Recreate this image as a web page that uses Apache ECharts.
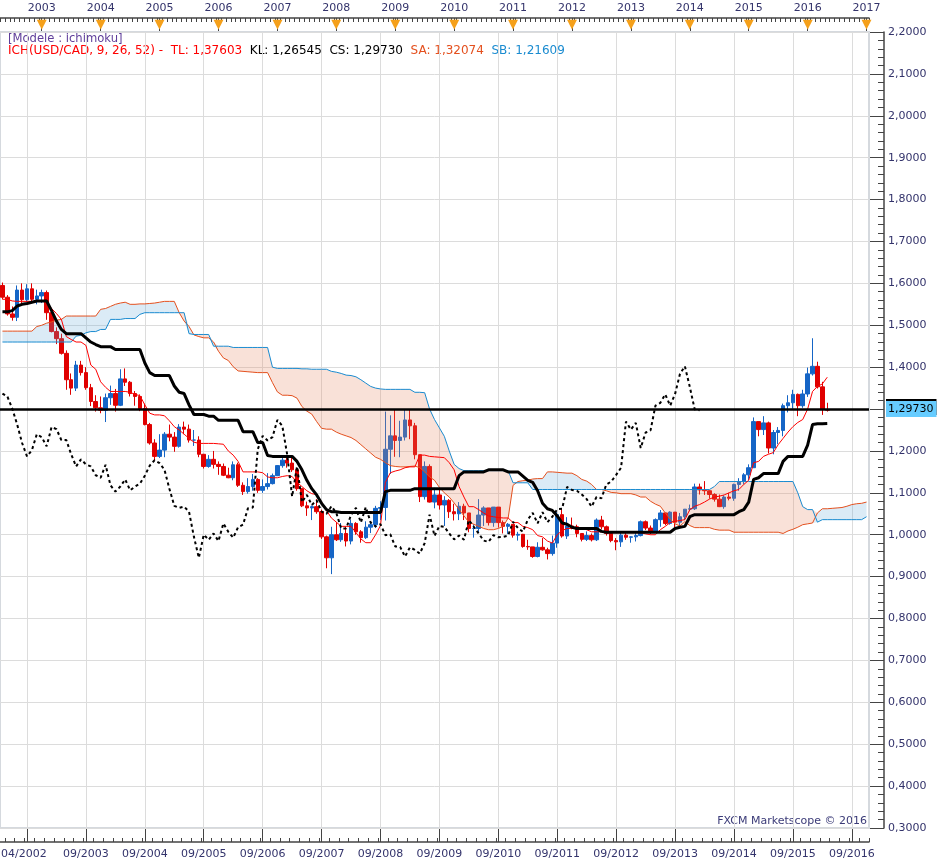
<!DOCTYPE html>
<html><head><meta charset="utf-8">
<script src="https://cdn.jsdelivr.net/npm/echarts@6/dist/echarts.min.js"></script>
<style>html,body{margin:0;padding:0;background:#fff}#c{width:942px;height:868px}</style>
</head><body><div id="c"></div>
<script>
// Monthly categories Apr 2002 .. Dec 2016
const months = [];
for (let k = 0; k < 177; k++) { const m = 3 + k; months.push((2002 + Math.floor(m / 12)) + '-' + String(m % 12 + 1).padStart(2, '0')); }

// USD/CAD monthly candles (Apr 2002 .. Apr 2016)
const opens = [1.595,1.567,1.527,1.519,1.584,1.561,1.587,1.562,1.570,
1.578,1.530,1.485,1.468,1.433,1.370,1.350,1.405,1.387,1.351,1.318,1.303,
1.297,1.327,1.337,1.309,1.372,1.364,1.337,1.330,1.301,1.263,1.219,1.187,
1.202,1.240,1.233,1.211,1.257,1.252,1.226,1.226,1.192,1.163,1.180,1.168,
1.163,1.142,1.136,1.167,1.118,1.103,1.115,1.132,1.106,1.115,1.122,1.141,
1.165,1.178,1.171,1.155,1.110,1.069,1.064,1.067,1.055,0.995,0.945,1.000,
0.988,1.003,0.985,1.027,1.007,0.993,1.018,1.024,1.063,1.065,1.204,1.236,
1.225,1.233,1.274,1.260,1.191,1.091,1.163,1.078,1.095,1.071,1.082,1.055,
1.050,1.068,1.052,1.015,1.015,1.047,1.064,1.029,1.066,1.029,1.020,1.025,
0.999,1.001,0.972,0.971,0.948,0.970,0.964,0.955,0.980,1.048,0.997,1.021,
1.019,1.003,0.989,0.998,0.988,1.035,1.019,1.003,0.986,0.983,0.999,0.994,
0.995,0.998,1.031,1.016,1.007,1.036,1.052,1.027,1.054,1.030,1.043,1.061,
1.062,1.114,1.107,1.105,1.096,1.085,1.067,1.090,1.087,1.120,1.127,1.143,
1.160,1.270,1.251,1.267,1.207,1.244,1.249,1.308,1.315,1.335,1.308,1.336,
1.384,1.402,1.353,1.299];
const closes = [1.567,1.527,1.519,1.584,1.561,1.587,1.562,1.570,1.578,
1.530,1.485,1.468,1.433,1.370,1.350,1.405,1.387,1.351,1.318,1.303,1.297,
1.327,1.337,1.309,1.372,1.364,1.337,1.330,1.301,1.263,1.219,1.187,1.202,
1.240,1.233,1.211,1.257,1.252,1.226,1.226,1.192,1.163,1.180,1.168,1.163,
1.142,1.136,1.167,1.118,1.103,1.115,1.132,1.106,1.115,1.122,1.141,1.165,
1.178,1.171,1.155,1.110,1.069,1.064,1.067,1.055,0.995,0.945,1.000,0.988,
1.003,0.985,1.027,1.007,0.993,1.018,1.024,1.063,1.065,1.204,1.236,1.225,
1.233,1.274,1.260,1.191,1.091,1.163,1.078,1.095,1.071,1.082,1.055,1.050,
1.068,1.052,1.015,1.015,1.047,1.064,1.029,1.066,1.029,1.020,1.025,0.999,
1.001,0.972,0.971,0.948,0.970,0.964,0.955,0.980,1.048,0.997,1.021,1.019,
1.003,0.989,0.998,0.988,1.035,1.019,1.003,0.986,0.983,0.999,0.994,0.995,
0.998,1.031,1.016,1.007,1.036,1.052,1.027,1.054,1.030,1.043,1.061,1.062,
1.114,1.107,1.105,1.096,1.085,1.067,1.090,1.087,1.120,1.127,1.143,1.160,
1.270,1.251,1.267,1.207,1.244,1.249,1.308,1.315,1.335,1.308,1.336,1.384,
1.402,1.353,1.299,1.2973];
const lows = [1.562,1.523,1.511,1.510,1.550,1.555,1.555,1.550,1.553,
1.513,1.483,1.455,1.430,1.346,1.334,1.343,1.380,1.346,1.307,1.294,1.290,
1.269,1.310,1.294,1.307,1.355,1.330,1.308,1.295,1.261,1.215,1.177,1.183,
1.185,1.223,1.198,1.208,1.240,1.220,1.212,1.185,1.158,1.160,1.158,1.143,
1.140,1.135,1.130,1.114,1.095,1.098,1.105,1.100,1.100,1.108,1.120,1.140,
1.160,1.160,1.150,1.105,1.066,1.045,1.035,1.050,0.990,0.920,0.906,0.985,
0.983,0.972,0.977,1.000,0.981,0.990,1.004,1.016,1.035,1.034,1.145,1.186,
1.185,1.225,1.228,1.180,1.078,1.084,1.077,1.063,1.060,1.021,1.040,1.034,
1.035,1.035,1.006,0.993,1.005,1.021,1.022,1.019,1.017,1.003,1.002,0.993,
0.986,0.969,0.964,0.945,0.946,0.962,0.941,0.950,0.969,0.993,0.990,1.013,
0.994,0.984,0.985,0.984,0.985,1.013,0.998,0.982,0.963,0.971,0.988,0.981,
0.984,0.996,1.011,1.001,1.007,1.019,1.023,1.024,1.018,1.018,1.035,1.056,
1.059,1.096,1.095,1.086,1.079,1.066,1.062,1.082,1.081,1.105,1.120,1.130,
1.160,1.235,1.238,1.194,1.192,1.216,1.235,1.292,1.301,1.283,1.303,1.329,
1.380,1.349,1.286,1.294];
const highs = [1.602,1.572,1.545,1.595,1.600,1.598,1.600,1.585,1.585,
1.583,1.535,1.495,1.480,1.440,1.385,1.415,1.415,1.400,1.360,1.333,1.330,
1.337,1.356,1.348,1.395,1.397,1.367,1.343,1.335,1.313,1.267,1.228,1.240,
1.245,1.263,1.245,1.264,1.270,1.263,1.250,1.235,1.193,1.190,1.200,1.175,
1.170,1.160,1.175,1.172,1.125,1.135,1.145,1.135,1.132,1.147,1.146,1.166,
1.190,1.188,1.185,1.160,1.110,1.079,1.070,1.085,1.060,0.998,1.019,1.030,
1.028,1.020,1.036,1.030,1.011,1.032,1.030,1.069,1.080,1.294,1.285,1.300,
1.272,1.300,1.300,1.267,1.188,1.175,1.168,1.112,1.112,1.092,1.085,1.074,
1.078,1.074,1.052,1.025,1.085,1.068,1.064,1.066,1.050,1.034,1.028,1.015,
1.007,1.002,0.988,0.971,0.982,0.992,0.969,0.998,1.054,1.061,1.042,1.041,
1.024,1.003,1.008,1.003,1.039,1.045,1.022,1.000,0.992,1.004,1.004,0.996,
1.004,1.034,1.034,1.022,1.039,1.059,1.053,1.056,1.052,1.052,1.061,1.072,
1.122,1.122,1.128,1.106,1.099,1.096,1.094,1.100,1.122,1.135,1.147,1.168,
1.280,1.270,1.283,1.270,1.250,1.257,1.313,1.333,1.346,1.337,1.346,1.399,
1.469,1.413,1.365,1.315];

// Ichimoku lines
const tenkan = [1.562,1.562,1.558,1.557,1.557,1.557,1.557,1.557,1.557,
1.556,1.540,1.528,1.514,1.473,1.466,1.460,1.460,1.452,1.405,1.395,1.365,
1.352,1.342,1.342,1.342,1.342,1.340,1.335,1.332,1.310,1.290,1.286,1.286,
1.284,1.272,1.258,1.250,1.240,1.230,1.221,1.218,1.218,1.218,1.218,1.217,
1.216,1.200,1.190,1.175,1.150,1.150,1.150,1.150,1.148,1.138,1.136,1.136,
1.139,1.141,1.139,1.125,1.115,1.105,1.098,1.096,1.078,1.058,1.040,1.030,
1.020,1.020,1.020,1.005,0.990,0.981,0.981,1.000,1.022,1.125,1.148,1.152,
1.155,1.160,1.162,1.162,1.190,1.190,1.187,1.186,1.185,1.184,1.172,1.155,
1.115,1.090,1.067,1.067,1.060,1.052,1.045,1.043,1.041,1.040,1.040,1.029,
1.029,1.020,1.017,1.012,0.998,0.995,0.985,0.980,1.000,1.010,1.015,1.015,
1.015,1.015,1.012,1.007,1.007,1.007,1.007,1.005,1.005,1.005,1.005,1.005,
1.005,1.005,1.002,1.000,1.000,1.012,1.020,1.029,1.032,1.034,1.036,1.060,
1.068,1.072,1.078,1.085,1.090,1.092,1.095,1.100,1.105,1.108,1.120,1.130,
1.172,1.175,1.187,1.192,1.196,1.215,1.230,1.245,1.258,1.268,1.275,1.300,
1.342,1.354,1.360,1.376];
const kijun = [1.532,1.532,1.535,1.546,1.550,1.552,1.555,1.558,1.558,
1.558,1.535,1.510,1.490,1.480,1.480,1.480,1.480,1.470,1.460,1.454,1.449,
1.449,1.449,1.442,1.442,1.442,1.442,1.442,1.442,1.410,1.387,1.380,1.380,
1.380,1.380,1.355,1.340,1.337,1.310,1.287,1.287,1.287,1.283,1.283,1.273,
1.273,1.273,1.273,1.273,1.246,1.246,1.246,1.220,1.220,1.189,1.187,1.187,
1.187,1.187,1.187,1.175,1.155,1.130,1.110,1.095,1.075,1.060,1.055,1.055,
1.053,1.053,1.053,1.053,1.053,1.053,1.053,1.053,1.053,1.103,1.106,1.106,
1.106,1.106,1.106,1.110,1.110,1.110,1.110,1.110,1.110,1.110,1.110,1.110,
1.141,1.150,1.150,1.150,1.150,1.150,1.155,1.155,1.155,1.155,1.150,1.150,
1.150,1.140,1.130,1.125,1.105,1.075,1.062,1.058,1.045,1.028,1.025,1.018,
1.015,1.015,1.015,1.015,1.015,1.008,1.006,1.006,1.006,1.006,1.006,1.006,
1.006,1.006,1.006,1.006,1.006,1.006,1.006,1.006,1.015,1.018,1.020,1.043,
1.048,1.048,1.048,1.048,1.048,1.048,1.048,1.048,1.048,1.055,1.060,1.078,
1.132,1.136,1.146,1.146,1.146,1.146,1.175,1.187,1.187,1.187,1.187,1.214,
1.263,1.265,1.265,1.2655];
const senkouA = [1.486,1.486,1.486,1.486,1.486,1.486,1.486,1.497,1.500,
1.505,1.508,1.512,1.514,1.522,1.522,1.522,1.522,1.522,1.522,1.522,1.538,
1.540,1.545,1.550,1.553,1.555,1.550,1.550,1.551,1.551,1.552,1.553,1.555,
1.557,1.557,1.557,1.530,1.510,1.497,1.477,1.473,1.470,1.470,1.460,1.438,
1.422,1.416,1.401,1.391,1.390,1.389,1.388,1.387,1.387,1.387,1.363,1.341,
1.333,1.333,1.332,1.326,1.306,1.295,1.288,1.270,1.254,1.252,1.252,1.245,
1.240,1.236,1.232,1.225,1.215,1.205,1.195,1.185,1.180,1.172,1.165,1.163,
1.162,1.162,1.163,1.164,1.160,1.150,1.138,1.130,1.113,1.100,1.090,1.076,
1.060,1.045,1.030,1.025,1.020,1.015,1.012,1.012,1.015,1.020,1.040,1.118,
1.127,1.129,1.130,1.133,1.134,1.134,1.150,1.150,1.149,1.148,1.147,1.147,
1.141,1.132,1.128,1.120,1.108,1.108,1.105,1.101,1.100,1.098,1.098,1.098,
1.095,1.090,1.090,1.080,1.073,1.068,1.052,1.037,1.026,1.021,1.031,1.022,
1.017,1.017,1.017,1.017,1.013,1.011,1.011,1.011,1.006,1.006,1.006,1.006,
1.006,1.006,1.006,1.006,1.006,1.006,1.003,1.009,1.013,1.018,1.024,1.026,
1.028,1.052,1.062,1.062,1.063,1.064,1.065,1.068,1.072,1.074,1.075,1.078];
const senkouB = [1.460,1.460,1.460,1.460,1.460,1.460,1.460,1.460,1.460,
1.460,1.460,1.460,1.460,1.460,1.460,1.474,1.476,1.482,1.485,1.485,1.490,
1.490,1.514,1.514,1.514,1.516,1.516,1.516,1.526,1.530,1.530,1.530,1.530,
1.530,1.530,1.530,1.530,1.530,1.480,1.478,1.478,1.478,1.478,1.450,1.450,
1.450,1.450,1.447,1.447,1.447,1.447,1.447,1.447,1.447,1.447,1.400,1.397,
1.397,1.397,1.397,1.397,1.396,1.396,1.395,1.395,1.395,1.395,1.390,1.388,
1.385,1.381,1.380,1.377,1.370,1.362,1.354,1.350,1.348,1.347,1.347,1.347,
1.347,1.347,1.347,1.340,1.340,1.339,1.300,1.275,1.255,1.235,1.200,1.168,
1.158,1.153,1.153,1.153,1.153,1.153,1.153,1.153,1.153,1.153,1.153,1.124,
1.124,1.124,1.124,1.108,1.108,1.108,1.108,1.108,1.108,1.108,1.108,1.108,
1.108,1.108,1.108,1.108,1.108,1.108,1.108,1.108,1.108,1.108,1.108,1.108,
1.108,1.108,1.108,1.108,1.108,1.108,1.108,1.108,1.108,1.108,1.108,1.108,
1.108,1.108,1.108,1.108,1.115,1.127,1.127,1.127,1.127,1.127,1.127,1.127,
1.127,1.127,1.127,1.127,1.127,1.127,1.127,1.127,1.127,1.100,1.067,1.060,
1.060,1.030,1.036,1.036,1.036,1.036,1.036,1.036,1.036,1.036,1.036,1.043];

const priceLevel = 1.305;       // horizontal line drawn on the chart
const lastClose = 1.2973;       // last close shown on the price axis
const lastCloseText = '1,29730';
const legendLine1 = '[Modele : ichimoku]';
const legendParts = { r: 'ICH(USD/CAD, 9, 26, 52) -  TL: 1,37603', kl: 'KL: 1,26545', cs: 'CS: 1,29730', sa: 'SA: 1,32074', sb: 'SB: 1,21609' };
const credit = 'FXCM Marketscope \u00a9 2016';

// ---- derived structures for the library ----
const chikou = closes.slice(26);
const cloudBase = senkouA.map((a, i) => Math.min(a, senkouB[i]));
const cloudBlue = senkouA.map((a, i) => Math.max(a - senkouB[i], 0));
const cloudRed = senkouA.map((a, i) => Math.max(senkouB[i] - a, 0));
const candles = opens.map((o, i) => [o, closes[i], lows[i], highs[i]]);

const FONT = 'DejaVu Sans';
const LBL = '#33336b';
const isSep = (i) => i % 12 === 5;
const isDec = (i, v) => String(v).slice(5) === '12';

const chart = echarts.init(document.getElementById('c'), null, { renderer: 'canvas' });
const lineBase = { type: 'line', symbol: 'none', showSymbol: false, silent: true, animation: false, xAxisIndex: 0, yAxisIndex: 0 };

chart.setOption({
  animation: false,
  backgroundColor: '#ffffff',
  grid: { left: 0, right: 73, top: 32, bottom: 40, show: true, borderColor: '#d5d9de', borderWidth: 2, containLabel: false, outerBoundsMode: 'none' },
  xAxis: [
    { type: 'category', data: months, position: 'bottom', offset: 14, boundaryGap: true,
      axisLine: { show: true, onZero: false, lineStyle: { color: '#444', width: 1.5 } },
      axisTick: { show: true, inside: true, length: 4, interval: (i) => i % 2 === 1, lineStyle: { color: '#444' } },
      axisLabel: { interval: (i) => i === 0 || (isSep(i) && i > 5), margin: 7, color: LBL, fontFamily: FONT, fontSize: 11, hideOverlap: false,
        formatter: (v, i) => { const t = v.slice(5) + '/' + v.slice(0, 4); return i === 0 ? '{first|' + t + '}' : t; },
        rich: { first: { padding: [0, 0, 0, 43], color: LBL, fontFamily: FONT, fontSize: 11 } } },
      splitLine: { show: false } },
    { type: 'category', data: months, position: 'bottom', offset: 14, boundaryGap: true,
      axisLine: { show: false }, axisLabel: { show: false },
      axisTick: { show: true, inside: true, length: 13, interval: isSep, alignWithLabel: true, lineStyle: { color: '#444' } },
      splitLine: { show: true, interval: isSep, alignWithLabel: true, lineStyle: { color: '#dcdcdc', width: 1 } } },
    { type: 'category', data: months, position: 'top', offset: 14, boundaryGap: true,
      axisLine: { show: true, onZero: false, lineStyle: { color: '#444', width: 1.5 } },
      axisTick: { show: true, inside: true, length: 4, interval: 0, lineStyle: { color: '#444' } },
      axisLabel: { interval: isDec, margin: 4, color: LBL, fontFamily: FONT, fontSize: 11,
        formatter: (v) => String(Number(v.slice(0, 4)) + 1) },
      splitLine: { show: false } },
    { type: 'category', data: months, position: 'top', offset: 14, boundaryGap: true,
      axisLine: { show: false },
      axisTick: { show: true, inside: true, length: 13, interval: isDec, alignWithLabel: true, lineStyle: { color: '#444' } },
      axisLabel: { inside: true, interval: isDec, margin: 0, color: '#f5a01a', fontFamily: FONT, fontSize: 13, formatter: () => '\u25BC' },
      splitLine: { show: false } }
  ],
  yAxis: [{
    type: 'value', position: 'right', min: 0.3, max: 2.2, interval: 0.1, offset: 15, scale: false,
    axisLine: { show: true, onZero: false, lineStyle: { color: '#444', width: 1.5 } },
    axisTick: { show: true, inside: true, length: 14, lineStyle: { color: '#444' } },
    minorTick: { show: true, splitNumber: 5, length: 6, lineStyle: { color: '#444' } },
    axisLabel: { margin: 4, color: LBL, fontFamily: FONT, fontSize: 11,
      formatter: (v) => Math.abs(v - lastClose) < 0.02 ? '' : v.toFixed(4).replace('.', ',') },
    splitLine: { show: true, lineStyle: { color: '#dcdcdc', width: 1 } }
  }],
  series: [
    { type: 'candlestick', name: 'USD/CAD', data: candles, barWidth: 4, z: 2, animation: false,
      itemStyle: { color: '#1565c6', color0: '#e00000', borderColor: '#1565c6', borderColor0: '#e00000', borderWidth: 1 },
      markLine: { silent: true, symbol: 'none', z: 10, animation: false,
        data: [
          { yAxis: priceLevel, label: { show: false }, lineStyle: { color: '#000', width: 2.5, type: 'solid' } },
          { yAxis: lastClose, lineStyle: { color: 'rgba(0,0,0,0)', width: 1 },
            label: { show: true, position: 'end', distance: 17, formatter: lastCloseText, color: '#000',
              fontFamily: FONT, fontSize: 11, backgroundColor: '#66ccff', padding: [3, 3, 2, 2],
              shadowColor: '#000', shadowOffsetY: -2, shadowBlur: 0 } }
        ] } },
    Object.assign({}, lineBase, { name: 'cb', data: cloudBase, stack: 'cloud', z: 3, lineStyle: { opacity: 0 } }),
    Object.assign({}, lineBase, { name: 'cblue', data: cloudBlue, stack: 'cloud', z: 3, lineStyle: { opacity: 0 }, areaStyle: { color: 'rgba(100,170,215,0.33)' } }),
    Object.assign({}, lineBase, { name: 'cred', data: cloudRed, stack: 'cloud', z: 3, lineStyle: { opacity: 0 }, areaStyle: { color: 'rgba(230,135,100,0.36)' } }),
    Object.assign({}, lineBase, { name: 'SA', data: senkouA, z: 4, lineStyle: { color: '#e4501e', width: 1 } }),
    Object.assign({}, lineBase, { name: 'SB', data: senkouB, z: 4, lineStyle: { color: '#1a8bd0', width: 1 } }),
    Object.assign({}, lineBase, { name: 'TL', data: tenkan, z: 5, lineStyle: { color: '#ff0000', width: 1 } }),
    Object.assign({}, lineBase, { name: 'KL', data: kijun, z: 6, lineStyle: { color: '#000', width: 3 } }),
    Object.assign({}, lineBase, { name: 'CS', data: chikou, z: 6, lineStyle: { color: '#000', width: 2, type: [3, 3] } })
  ],
  graphic: [
    { type: 'text', left: 8, top: 33, silent: true, style: { text: legendLine1, fill: '#5e3d9a', fontFamily: FONT, fontSize: 11.6 } },
    { type: 'text', left: 8, top: 45, silent: true, style: {
      text: '{r|' + legendParts.r + '}  {k|' + legendParts.kl + '}  {k|' + legendParts.cs + '}  {o|' + legendParts.sa + '}  {b|' + legendParts.sb + '}',
      fontFamily: FONT, fontSize: 12,
      rich: { r: { fill: '#ff0000', fontFamily: FONT, fontSize: 12 }, k: { fill: '#000', fontFamily: FONT, fontSize: 12 },
              o: { fill: '#e4501e', fontFamily: FONT, fontSize: 12 }, b: { fill: '#1a8bd0', fontFamily: FONT, fontSize: 12 } } } },
    { type: 'text', right: 75, top: 816, silent: true, style: { text: credit, fill: '#3b3b78', fontFamily: FONT, fontSize: 11 } }
  ]
});
</script></body></html>
